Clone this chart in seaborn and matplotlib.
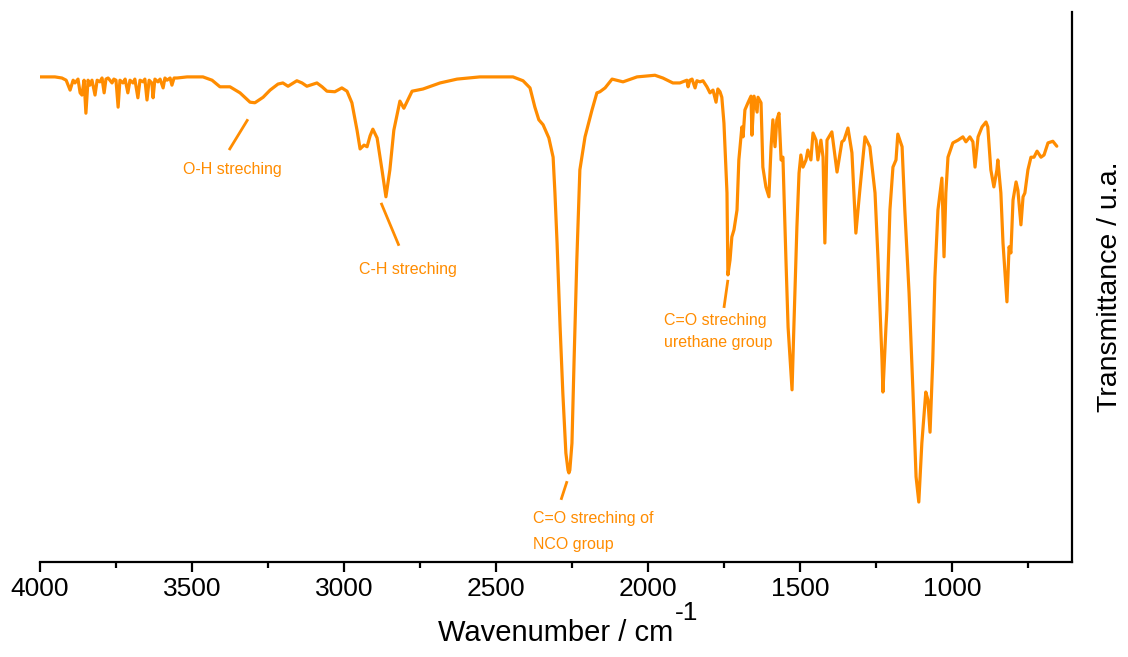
import matplotlib
matplotlib.use("Agg")
import matplotlib.pyplot as plt
from matplotlib.ticker import MultipleLocator
import pandas as pd
import seaborn as sns

# FTIR spectrum of the NCO-terminated prepolymer (wavenumber in cm^-1, transmittance in a.u.)
wavenumber = [
    4000, 3951, 3928, 3914, 3901, 3891, 3885, 3875, 3868, 3862, 3855, 3849, 3842, 3836,
    3829, 3819, 3812, 3803, 3796, 3789, 3783, 3776, 3770, 3763, 3757, 3750, 3743, 3737,
    3727, 3720, 3711, 3704, 3694, 3688, 3678, 3671, 3661, 3655, 3648, 3641, 3632, 3628,
    3622, 3612, 3605, 3595, 3589, 3582, 3572, 3566, 3559, 3549, 3516, 3464, 3434, 3408,
    3375, 3342, 3309, 3293, 3266, 3243, 3217, 3201, 3184, 3155, 3138, 3122, 3089, 3072,
    3056, 3030, 3007, 2990, 2974, 2957, 2947, 2934, 2924, 2914, 2905, 2891, 2875, 2862,
    2849, 2836, 2816, 2803, 2776, 2740, 2684, 2628, 2553, 2444, 2411, 2388, 2372, 2359,
    2345, 2326, 2312, 2306, 2299, 2289, 2280, 2270, 2263, 2260, 2257, 2250, 2243, 2234,
    2224, 2207, 2184, 2168, 2158, 2141, 2118, 2082, 2036, 1977, 1951, 1918, 1895, 1872,
    1868, 1862, 1855, 1845, 1839, 1829, 1819, 1806, 1796, 1786, 1776, 1770, 1763, 1757,
    1750, 1740, 1737, 1730, 1724, 1717, 1707, 1701, 1691, 1687, 1681, 1671, 1661, 1658,
    1651, 1641, 1638, 1628, 1622, 1612, 1602, 1595, 1589, 1582, 1576, 1569, 1562, 1556,
    1546, 1539, 1526, 1520, 1510, 1503, 1497, 1490, 1480, 1474, 1464, 1457, 1447, 1441,
    1431, 1424, 1418, 1411, 1395, 1378, 1362, 1355, 1342, 1329, 1316, 1303, 1286, 1270,
    1253, 1243, 1230, 1227, 1217, 1214, 1204, 1194, 1184, 1178, 1164, 1155, 1141, 1128,
    1118, 1109, 1099, 1086, 1079, 1072, 1063, 1056, 1046, 1033, 1026, 1020, 1013, 997,
    980, 964, 954, 941, 931, 924, 914, 901, 888, 882, 872, 862, 852, 849, 839, 832, 819,
    812, 806, 799, 789, 783, 773, 766, 760, 750, 740, 730, 720, 707, 697, 684, 668, 655,
]
transmittance = [
    88.2, 88.2, 88.0, 87.6, 85.8, 87.6, 87.1, 87.8, 85.3, 84.9, 87.6, 81.6, 87.6, 86.7,
    87.6, 84.9, 87.6, 87.3, 88.0, 85.3, 87.8, 88.0, 87.6, 87.1, 87.8, 87.6, 82.7, 87.6,
    87.1, 87.8, 85.3, 87.6, 87.1, 87.8, 84.4, 87.6, 87.3, 87.8, 84.0, 87.6, 87.1, 84.4,
    87.8, 87.3, 87.8, 86.2, 88.0, 87.6, 88.0, 86.7, 88.0, 88.0, 88.2, 88.2, 87.6, 86.4,
    86.4, 85.3, 83.6, 83.5, 84.5, 85.8, 86.9, 87.1, 86.5, 87.5, 87.1, 86.5, 87.1, 86.4,
    85.6, 85.5, 86.2, 85.6, 83.5, 78.5, 75.1, 75.8, 75.5, 77.5, 78.7, 77.1, 71.3, 66.4,
    71.3, 78.5, 83.8, 82.5, 85.6, 86.0, 87.1, 87.8, 88.2, 88.2, 87.5, 86.2, 82.7, 80.4,
    79.5, 77.1, 73.6, 67.1, 58.0, 42.7, 30.7, 19.8, 16.7, 16.2, 16.7, 21.6, 36.7, 54.9,
    71.3, 77.3, 82.2, 85.3, 85.5, 86.2, 87.8, 87.3, 88.2, 88.5, 88.0, 87.1, 87.1, 87.6,
    86.4, 87.6, 87.8, 86.2, 87.5, 87.3, 87.5, 86.4, 85.3, 85.8, 83.6, 86.0, 85.5, 84.5,
    79.8, 67.1, 52.2, 54.9, 59.1, 60.4, 64.0, 73.1, 79.1, 77.3, 82.2, 83.5, 84.7, 77.6,
    84.7, 81.8, 84.5, 83.5, 71.8, 68.2, 66.4, 75.5, 80.4, 75.5, 80.4, 81.6, 73.1, 73.6,
    54.9, 42.7, 31.3, 42.7, 60.9, 70.7, 74.0, 71.8, 73.1, 74.9, 73.1, 78.0, 76.7, 73.1,
    76.7, 73.6, 58.0, 76.7, 78.2, 70.9, 76.4, 76.7, 78.9, 74.4, 59.8, 67.6, 77.3, 75.5,
    67.1, 54.9, 36.7, 30.9, 42.7, 45.8, 64.0, 71.8, 73.1, 77.8, 75.5, 64.0, 48.9, 30.7,
    15.5, 10.9, 21.6, 30.9, 29.5, 23.6, 36.7, 51.8, 64.0, 69.8, 55.5, 67.1, 73.6, 76.2,
    76.7, 77.3, 76.4, 77.3, 76.4, 71.8, 77.3, 79.1, 80.0, 79.1, 71.3, 68.2, 71.3, 73.1,
    67.1, 58.0, 47.3, 57.3, 56.2, 65.8, 69.1, 67.6, 61.3, 66.4, 67.1, 71.3, 73.6, 73.6,
    74.7, 73.6, 74.0, 76.2, 76.5, 75.6,
]

ORANGE = "#FF8C00"

sns.set_style("white")
plt.rcParams["font.family"] = ["Liberation Sans", "DejaVu Sans"]
plt.rcParams["text.color"] = "black"
plt.rcParams["axes.labelcolor"] = "black"
plt.rcParams["xtick.color"] = "black"

df = pd.DataFrame({"wavenumber": wavenumber, "transmittance": transmittance})

fig = plt.figure(figsize=(11.28, 6.57), dpi=100)
ax = fig.add_axes([40 / 1128, 1 - 562 / 657, (1072 - 40) / 1128, (562 - 12) / 657])

sns.lineplot(data=df, x="wavenumber", y="transmittance", color=ORANGE,
             linewidth=2.3, estimator=None, sort=False, ax=ax)

ax.set_xlim(4000, 605)
ax.set_ylim(0, 100)

# band assignments: leader lines and labels
txt_kw = dict(color=ORANGE, fontsize=11.5)
line_kw = dict(color=ORANGE, linewidth=2.0, solid_capstyle="butt")

ax.plot([3378, 3316], [74.9, 80.5], **line_kw)
ax.text(3368, 71.3, "O-H streching", ha="center", va="center", **txt_kw)

ax.plot([2878, 2819], [65.3, 57.5], **line_kw)
ax.text(2789, 53.1, "C-H streching", ha="center", va="center", **txt_kw)

ax.plot([2266, 2286], [14.7, 11.3], **line_kw)
ax.text(2378, 8.0, "C=O streching of", ha="left", va="center", **txt_kw)
ax.text(2378, 3.1, "NCO group", ha="left", va="center", **txt_kw)

ax.plot([1737, 1750], [51.3, 46.2], **line_kw)
ax.text(1947, 44.0, "C=O streching", ha="left", va="center", **txt_kw)
ax.text(1947, 40.0, "urethane group", ha="left", va="center", **txt_kw)

# only the bottom and right spines are drawn
for side in ("top", "left"):
    ax.spines[side].set_visible(False)
for side in ("bottom", "right"):
    ax.spines[side].set_visible(True)
    ax.spines[side].set_color("black")
    ax.spines[side].set_linewidth(1.6)

ax.xaxis.set_major_locator(MultipleLocator(500))
ax.xaxis.set_minor_locator(MultipleLocator(250))
ax.tick_params(axis="x", which="major", direction="out", length=7, width=1.6,
               labelsize=19, pad=4, colors="black", bottom=True)
ax.tick_params(axis="x", which="minor", direction="out", length=4.5, width=1.6,
               bottom=True, colors="black")
ax.tick_params(axis="y", which="both", left=False, right=False,
               labelleft=False, labelright=False)

ax.set_xlabel("Wavenumber / cm", fontsize=21, labelpad=13, color="black")
ax.annotate("-1", xy=(1.0, 0.78), xycoords=ax.xaxis.label, xytext=(1, 0),
            textcoords="offset points", ha="left", va="bottom",
            fontsize=19, color="black")

ax.yaxis.set_label_position("right")
ax.set_ylabel("Transmittance / u.a.", fontsize=20.5, labelpad=18, color="black")

fig.savefig("out.png", dpi=100)
